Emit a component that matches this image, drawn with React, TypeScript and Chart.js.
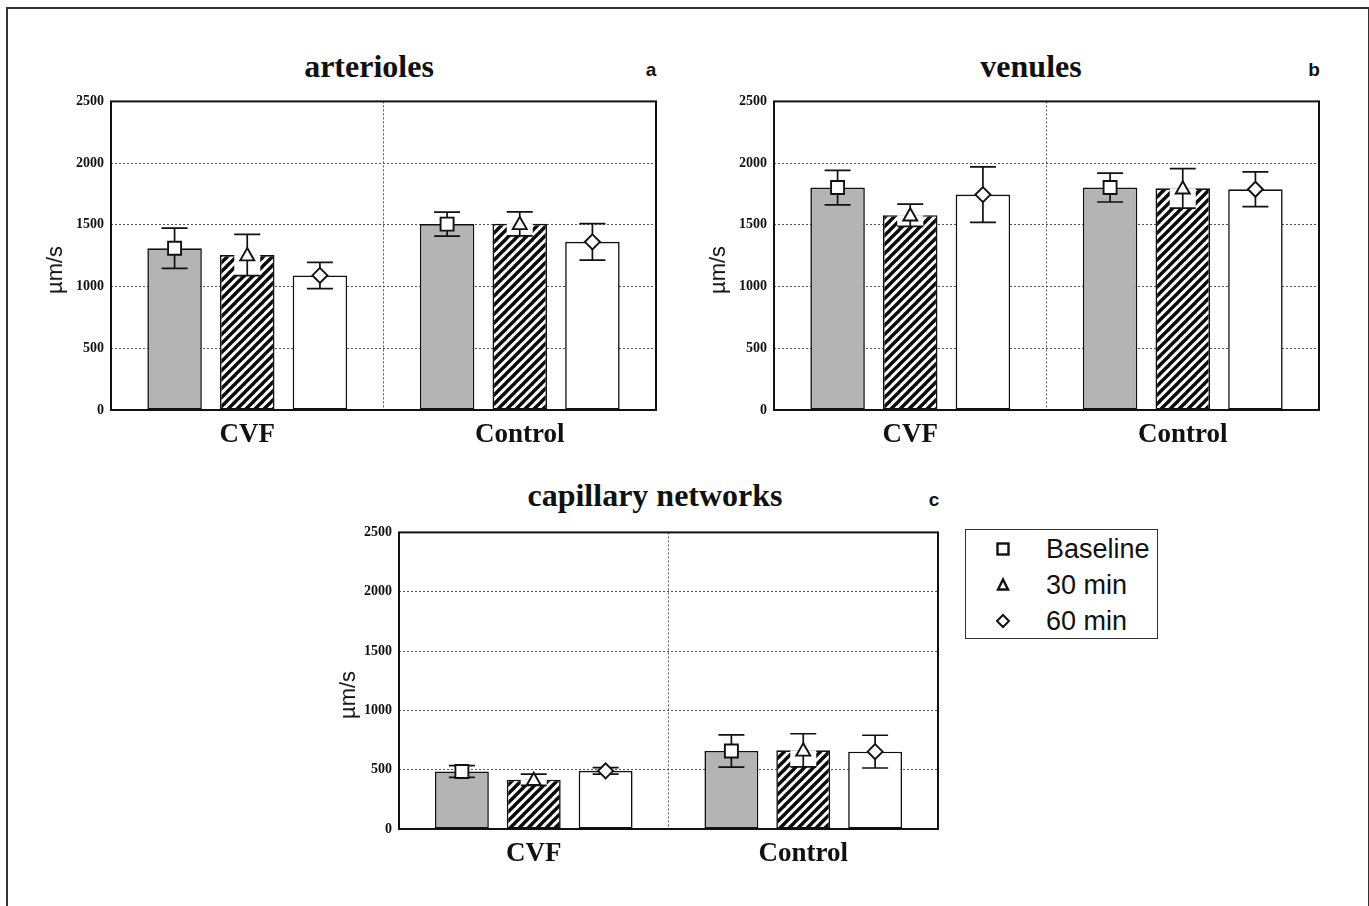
import React, { useEffect, useRef } from "react";
import { Chart, registerables } from "chart.js";
Chart.register(...registerables);

// ---------- data ----------
const categories = ["CVF", "Control"];
const seriesNames = ["Baseline", "30 min", "60 min"];
const yTickStep = 500;
const yMax = 2500;

const arteriolesBaseline = [1310, 1506];
const arteriolesBaselineErr = [163, 97];
const arterioles30 = [1255, 1508];
const arterioles30Err = [167, 97];
const arterioles60 = [1090, 1362];
const arterioles60Err = [106, 148];

const venulesBaseline = [1802, 1802];
const venulesBaselineErr = [140, 117];
const venules30 = [1578, 1796];
const venules30Err = [90, 160];
const venules60 = [1745, 1788];
const venules60Err = [225, 141];

const capillaryBaseline = [485, 658];
const capillaryBaselineErr = [50, 136];
const capillary30 = [415, 663];
const capillary30Err = [47, 140];
const capillary60 = [490, 652];
const capillary60Err = [28, 138];

// ---------- helpers ----------
function makeHatch(): CanvasPattern | string {
  const s = 9;
  const c = document.createElement("canvas");
  c.width = s;
  c.height = s;
  const g = c.getContext("2d");
  if (!g) return "#fff";
  g.fillStyle = "#ffffff";
  g.fillRect(0, 0, s, s);
  g.strokeStyle = "#0a0a0a";
  g.lineWidth = 3.4;
  g.lineCap = "square";
  const seg = (x0: number, y0: number, x1: number, y1: number) => {
    g.beginPath();
    g.moveTo(x0, y0);
    g.lineTo(x1, y1);
    g.stroke();
  };
  seg(0, s, s, 0);
  seg(-s, s, s, -s);
  seg(0, 2 * s, 2 * s, 0);
  const p = g.createPattern(c, "repeat");
  return p || "#fff";
}

const errorPlugin = {
  id: "errorMarkers",
  afterDatasetsDraw(chart: any) {
    const ctx = chart.ctx;
    const ys = chart.scales.y;
    const cap = 26;
    chart.data.datasets.forEach((ds: any, i: number) => {
      const meta = chart.getDatasetMeta(i);
      meta.data.forEach((bar: any, j: number) => {
        const v = ds.data[j];
        const e = ds.errors[j];
        const x = bar.x;
        const yv = ys.getPixelForValue(v);
        const yt = ys.getPixelForValue(v + e);
        const yb = ys.getPixelForValue(v - e);
        ctx.save();
        if (i === 1) {
          ctx.fillStyle = "#ffffff";
          ctx.fillRect(x - cap / 2, yv, cap, yb - yv);
        }
        ctx.strokeStyle = "#111";
        ctx.lineWidth = 1.7;
        ctx.beginPath();
        ctx.moveTo(x, yt);
        ctx.lineTo(x, yb);
        ctx.moveTo(x - cap / 2, yt);
        ctx.lineTo(x + cap / 2, yt);
        ctx.moveTo(x - cap / 2, yb);
        ctx.lineTo(x + cap / 2, yb);
        ctx.stroke();
        // marker
        ctx.fillStyle = "#ffffff";
        ctx.lineWidth = 1.9;
        ctx.beginPath();
        if (i === 0) {
          const h = 6.5;
          ctx.rect(x - h, yv - h, 2 * h, 2 * h);
        } else if (i === 1) {
          const h = 7;
          ctx.moveTo(x, yv - h);
          ctx.lineTo(x + h, yv + h * 0.75);
          ctx.lineTo(x - h, yv + h * 0.75);
          ctx.closePath();
        } else {
          const h = 7.5;
          ctx.moveTo(x, yv - h);
          ctx.lineTo(x + h, yv);
          ctx.lineTo(x, yv + h);
          ctx.lineTo(x - h, yv);
          ctx.closePath();
        }
        ctx.fill();
        ctx.stroke();
        ctx.restore();
      });
    });
  },
};

const framePlugin = {
  id: "plotFrame",
  afterDraw(chart: any) {
    const { ctx, chartArea } = chart;
    ctx.save();
    ctx.strokeStyle = "#111";
    ctx.lineWidth = 2;
    ctx.strokeRect(chartArea.left, chartArea.top, chartArea.right - chartArea.left, chartArea.bottom - chartArea.top);
    ctx.restore();
  },
};

type PanelProps = {
  left: number;
  top: number;
  width: number;
  height: number;
  means: number[][];
  errs: number[][];
};

function BarPanel({ left, top, width, height, means, errs }: PanelProps) {
  const ref = useRef<HTMLCanvasElement | null>(null);
  useEffect(() => {
    if (!ref.current) return;
    const hatch = makeHatch();
    const fills: any[] = ["#b4b4b4", hatch, "#ffffff"];
    const chart = new Chart(ref.current, {
      type: "bar",
      data: {
        labels: categories,
        datasets: seriesNames.map((name, i) => ({
          label: name,
          data: means[i],
          errors: errs[i],
          backgroundColor: fills[i],
          borderColor: "#111",
          borderWidth: 1.6,
          borderSkipped: false,
          categoryPercentage: 0.8,
          barPercentage: 0.75,
        })) as any,
      },
      options: {
        animation: false,
        responsive: false,
        maintainAspectRatio: false,
        events: [],
        layout: { padding: { top: 13, right: 14, left: 0, bottom: 0 } },
        plugins: { legend: { display: false }, tooltip: { enabled: false }, title: { display: false } },
        scales: {
          x: {
            grid: { display: true, drawTicks: false, color: "#555", lineWidth: 1, offset: true } as any,
            border: { display: false, dash: [2, 2] },
            ticks: {
              color: "#111",
              padding: 9,
              font: { family: "'Liberation Serif', serif", size: 27, weight: "bold" },
            },
            afterFit: (s: any) => {
              s.height = 56;
            },
          },
          y: {
            min: 0,
            max: yMax,
            ticks: {
              stepSize: yTickStep,
              color: "#111",
              padding: 7,
              font: { family: "'Liberation Serif', serif", size: 14, weight: "bold" },
              callback: (v: any) => String(v),
            },
            grid: {
              drawTicks: false,
              lineWidth: 1,
              color: (c: any) => (c.tick && (c.tick.value === 0 || c.tick.value === yMax) ? "rgba(0,0,0,0)" : "#555"),
            } as any,
            border: { display: false, dash: [2, 2] },
            afterFit: (s: any) => {
              s.width = 91;
            },
          },
        },
      } as any,
      plugins: [errorPlugin, framePlugin],
    });
    return () => chart.destroy();
  }, []);
  return (
    <canvas
      ref={ref}
      width={width}
      height={height}
      style={{ position: "absolute", left, top, width, height }}
    />
  );
}

function Label({
  text,
  cx,
  baseline,
  size,
  family,
  weight,
}: {
  text: string;
  cx: number;
  baseline: number;
  size: number;
  family: string;
  weight: string;
}) {
  const ascent = family.includes("Serif") ? 0.891 : 0.905;
  return (
    <div
      style={{
        position: "absolute",
        left: cx - 250,
        width: 500,
        top: baseline - ascent * size,
        textAlign: "center",
        fontFamily: family,
        fontSize: size,
        fontWeight: weight as any,
        lineHeight: "normal",
        color: "#111",
        whiteSpace: "nowrap",
      }}
    >
      {text}
    </div>
  );
}

function YTitle({ cx, cy }: { cx: number; cy: number }) {
  return (
    <div
      style={{
        position: "absolute",
        left: cx,
        top: cy,
        transform: "translate(-50%, -50%) rotate(-90deg)",
        fontFamily: "'Liberation Sans', Arial, sans-serif",
        fontSize: 22,
        color: "#111",
        whiteSpace: "nowrap",
        lineHeight: "normal",
      }}
    >
      µm/s
    </div>
  );
}

function Marker({ kind }: { kind: number }) {
  return (
    <svg width={16} height={16} viewBox="0 0 16 16" style={{ display: "block" }}>
      {kind === 0 && <rect x={2.5} y={2.5} width={11} height={11} fill="#fff" stroke="#111" strokeWidth={2.4} />}
      {kind === 1 && <polygon points="8,2.5 13,12.5 3,12.5" fill="#fff" stroke="#111" strokeWidth={2.4} strokeLinejoin="miter" />}
      {kind === 2 && <polygon points="8,2 14,8 8,14 2,8" fill="#fff" stroke="#111" strokeWidth={2} />}
    </svg>
  );
}

export default function App() {
  const serif = "'Liberation Serif', serif";
  const sans = "'Liberation Sans', Arial, sans-serif";
  return (
    <div
      style={{
        position: "fixed",
        left: 0,
        top: 0,
        width: 1369,
        height: 906,
        overflow: "hidden",
        background: "#fff",
      }}
    >
      <div
        style={{
          position: "absolute",
          left: 6,
          top: 7,
          width: 1364,
          height: 1000,
          border: "2px solid #333",
          boxSizing: "border-box",
        }}
      />
      <Label text="arterioles" cx={369} baseline={77} size={32} family={serif} weight="bold" />
      <Label text="a" cx={651} baseline={76} size={19} family={sans} weight="bold" />
      <Label text="venules" cx={1031} baseline={77} size={32} family={serif} weight="bold" />
      <Label text="b" cx={1314} baseline={76} size={19} family={sans} weight="bold" />
      <Label text="capillary networks" cx={655} baseline={506} size={32} family={serif} weight="bold" />
      <Label text="c" cx={934} baseline={506} size={19} family={sans} weight="bold" />

      <BarPanel
        left={20}
        top={86}
        width={650}
        height={380}
        means={[arteriolesBaseline, arterioles30, arterioles60]}
        errs={[arteriolesBaselineErr, arterioles30Err, arterioles60Err]}
      />
      <BarPanel
        left={683}
        top={86}
        width={650}
        height={380}
        means={[venulesBaseline, venules30, venules60]}
        errs={[venulesBaselineErr, venules30Err, venules60Err]}
      />
      <BarPanel
        left={308}
        top={517}
        width={644}
        height={368}
        means={[capillaryBaseline, capillary30, capillary60]}
        errs={[capillaryBaselineErr, capillary30Err, capillary60Err]}
      />
      <YTitle cx={55} cy={270} />
      <YTitle cx={718} cy={270} />
      <YTitle cx={348} cy={695} />

      <div
        style={{
          position: "absolute",
          left: 965,
          top: 529,
          width: 193,
          height: 110,
          border: "1.5px solid #333",
          boxSizing: "border-box",
        }}
      >
        {seriesNames.map((name, i) => (
          <div
            key={name}
            style={{
              position: "absolute",
              left: 0,
              top: 19 + i * 36 - 15,
              height: 30,
              width: 190,
            }}
          >
            <div style={{ position: "absolute", left: 29, top: 7 }}>
              <Marker kind={i} />
            </div>
            <div
              style={{
                position: "absolute",
                left: 80,
                top: 0,
                fontFamily: sans,
                fontSize: 27,
                lineHeight: "30px",
                color: "#111",
                whiteSpace: "nowrap",
              }}
            >
              {name}
            </div>
          </div>
        ))}
      </div>
    </div>
  );
}
